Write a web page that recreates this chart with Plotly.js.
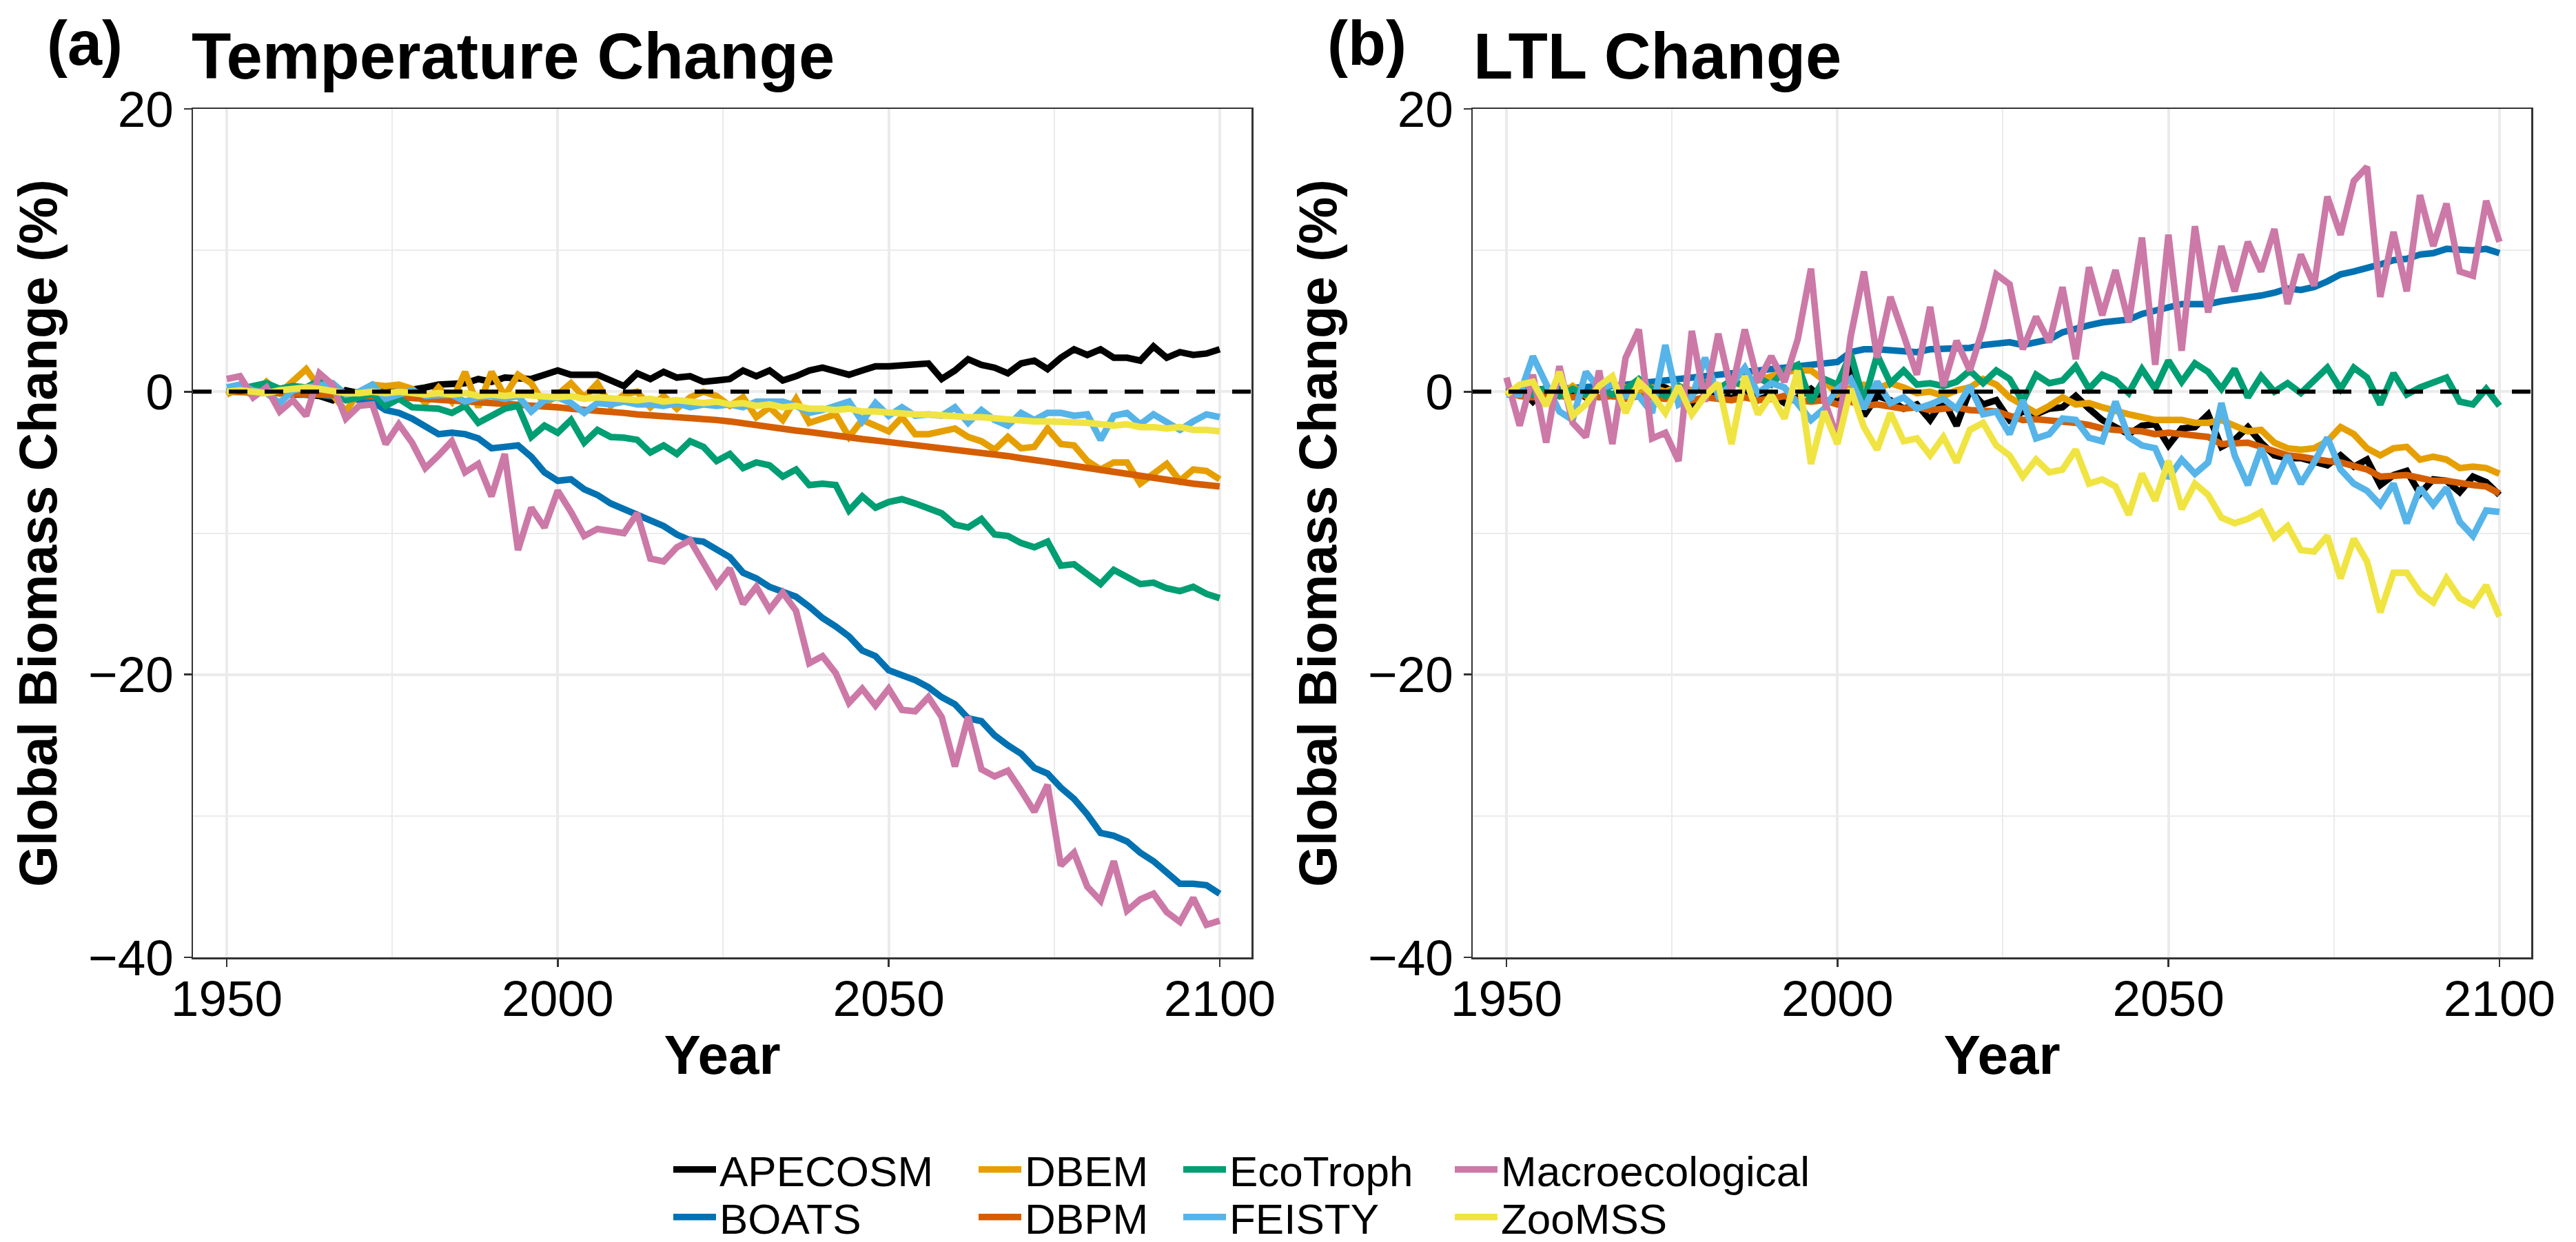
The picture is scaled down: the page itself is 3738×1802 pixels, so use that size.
<!DOCTYPE html>
<html>
<head>
<meta charset="utf-8">
<script src="https://cdn.plot.ly/plotly-3.0.1.min.js"></script>
<style>
html,body{margin:0;padding:0;background:#fff;}
#chart{width:3738px;height:1802px;}
</style>
</head>
<body>
<div id="chart"></div>
<script>
// ---------- data (2-year steps) ----------
const years = [1950,1952,1954,1956,1958,1960,1962,1964,1966,1968,
1970,1972,1974,1976,1978,1980,1982,1984,1986,1988,
1990,1992,1994,1996,1998,2000,2002,2004,2006,2008,
2010,2012,2014,2016,2018,2020,2022,2024,2026,2028,
2030,2032,2034,2036,2038,2040,2042,2044,2046,2048,
2050,2052,2054,2056,2058,2060,2062,2064,2066,2068,
2070,2072,2074,2076,2078,2080,2082,2084,2086,2088,
2090,2092,2094,2096,2098,2100];

const models = ["APECOSM","BOATS","DBEM","DBPM","EcoTroph","FEISTY","Macroecological","ZooMSS"];
const modelColors = ["#000000","#0072B2","#E69F00","#D55E00","#009E73","#56B4E9","#CC79A7","#F0E442"];
const xTickLabels = [1950,2000,2050,2100];
const yTickLabels = [-40,-20,0,20];
const panelTitles = ["Temperature Change","LTL Change"];
const panelTags = ["(a)","(b)"];

// (a) Temperature change
const apecosmTemp = [0,0.2,0.1,-0.1,0.0,-0.2,-0.2,-0.3,-0.6,0.1,
-0.1,0.0,0.0,0.0,0.1,0.3,0.5,0.6,0.6,0.9,
0.7,1.0,0.9,0.9,1.2,1.5,1.2,1.2,1.2,0.8,
0.4,1.3,0.9,1.4,1.0,1.1,0.7,0.8,0.9,1.5,
1.1,1.5,0.8,1.1,1.5,1.7,1.4,1.2,1.5,1.8,
1.8,1.9,1.9,2.0,0.9,1.5,2.3,1.9,1.7,1.3,
2.0,2.2,1.6,2.4,3.0,2.6,3.0,2.4,2.4,2.2,
3.2,2.4,2.8,2.6,2.7,3.0];
const boatsTemp = [0,0.1,0.1,0.0,-0.1,-0.1,-0.2,-0.2,-0.3,-0.5,
-0.6,-0.7,-1.3,-1.5,-1.9,-2.4,-3.0,-2.9,-3.0,-3.3,
-4.0,-3.9,-3.8,-4.6,-5.7,-6.3,-6.2,-6.9,-7.3,-7.9,
-8.3,-8.6,-9.0,-9.5,-10.1,-10.5,-10.6,-11.1,-11.7,-12.8,
-13.2,-13.8,-14.1,-14.5,-15.2,-16.0,-16.6,-17.3,-18.3,-18.7,
-19.7,-20.0,-20.4,-20.9,-21.6,-22.1,-23.1,-23.3,-24.3,-25.0,
-25.6,-26.6,-27.0,-28.0,-28.8,-29.9,-31.2,-31.4,-31.8,-32.6,
-33.2,-34.0,-34.8,-34.8,-34.9,-35.5];
const dbemTemp = [-0.2,0.3,-0.3,0.7,-0.1,0.7,1.6,0.3,-0.2,-1.4,
0.0,0.5,0.4,0.5,0.2,-0.8,0.3,-0.7,1.4,-1.1,
1.4,-0.3,1.2,0.6,-0.9,-0.2,0.6,-0.4,0.6,-1.0,
-0.2,0.0,-1.1,-0.3,-1.2,-0.4,0.0,-0.3,-1.0,-0.4,
-1.8,-1.1,-2.0,-0.5,-2.2,-1.9,-1.6,-3.2,-2.0,-2.4,
-2.8,-1.8,-3.0,-3.0,-2.8,-2.6,-3.2,-3.5,-4.1,-3.2,
-4.0,-3.9,-2.6,-3.7,-3.8,-4.9,-5.5,-5.0,-5.0,-6.5,
-5.8,-5.1,-6.3,-5.5,-5.6,-6.2];
const dbpmTemp = [0,0,-0.05,-0.1,-0.1,-0.15,-0.15,-0.2,-0.2,-0.25,
-0.3,-0.3,-0.35,-0.4,-0.45,-0.5,-0.55,-0.6,-0.65,-0.7,
-0.75,-0.85,-0.9,-1.0,-1.05,-1.1,-1.2,-1.25,-1.35,-1.4,
-1.5,-1.6,-1.65,-1.75,-1.8,-1.9,-1.95,-2.0,-2.1,-2.25,
-2.35,-2.5,-2.6,-2.75,-2.85,-3.0,-3.1,-3.2,-3.35,-3.45,
-3.55,-3.65,-3.75,-3.85,-3.95,-4.05,-4.15,-4.3,-4.45,-4.55,
-4.7,-4.8,-4.95,-5.1,-5.25,-5.4,-5.55,-5.7,-5.85,-5.95,
-6.1,-6.25,-6.4,-6.5,-6.6,-6.7];
const ecotrophTemp = [0,0.2,0.3,0.6,0.2,0.4,0.3,0.8,0.1,-0.6,
-0.4,-0.1,-1.0,-0.5,-1.1,-1.2,-1.2,-1.5,-1.0,-2.2,
-1.7,-1.2,-1.0,-3.2,-2.4,-2.9,-2.0,-3.6,-2.7,-3.2,
-3.25,-3.4,-4.3,-3.8,-4.4,-3.5,-3.9,-4.9,-4.4,-5.4,
-5.0,-5.2,-6.0,-5.5,-6.6,-6.5,-6.6,-8.4,-7.4,-8.2,
-7.8,-7.6,-7.9,-8.3,-8.6,-9.4,-9.6,-9.0,-10.1,-10.2,
-10.7,-11.0,-10.6,-12.3,-12.2,-12.9,-13.6,-12.6,-13.1,-13.6,
-13.5,-13.9,-14.1,-13.8,-14.3,-14.6];
const feistyTemp = [0.3,0.5,0.1,-0.1,-0.8,0.1,0.3,0.4,0.6,-0.2,
0.0,0.5,-0.5,-0.2,0.1,-0.3,-0.2,-0.2,-0.7,-0.4,
-0.3,-0.5,-0.3,-1.4,-0.6,-0.4,-0.8,-1.5,-0.8,-0.9,
-0.7,-0.9,-0.9,-1.0,-0.8,-1.1,-0.9,-1.0,-0.9,-1.1,
-0.7,-0.7,-0.7,-1.0,-1.5,-1.3,-1.0,-0.7,-2.1,-0.8,
-1.7,-1.1,-1.7,-1.6,-1.7,-1.1,-2.2,-1.3,-2.0,-2.4,
-1.5,-2.0,-1.5,-1.5,-1.7,-1.6,-3.4,-1.7,-1.5,-2.3,
-1.6,-2.2,-2.7,-2.1,-1.6,-1.8];
const macroTemp = [0.9,1.1,-0.4,0.3,-1.4,-0.6,-1.7,1.3,0.5,-1.9,
-1.0,-0.9,-3.7,-2.3,-3.6,-5.4,-4.5,-3.5,-5.7,-5.1,
-7.4,-4.4,-11.2,-8.2,-9.6,-7.0,-8.5,-10.2,-9.7,-9.8,
-10.0,-8.6,-11.8,-12.0,-11.0,-10.5,-12.0,-13.7,-12.5,-15.0,
-13.8,-15.4,-14.2,-15.5,-19.2,-18.7,-19.9,-22.0,-21.0,-22.2,
-21.0,-22.5,-22.6,-21.6,-23.0,-26.5,-23.0,-26.7,-27.2,-26.8,
-28.2,-29.7,-27.8,-33.5,-32.6,-35.0,-36.0,-33.2,-36.7,-35.9,
-35.5,-36.8,-37.5,-35.8,-37.7,-37.4];
const zoomssTemp = [0,0.1,0,-0.1,0.1,0.2,0.3,0.2,0,-0.1,
-0.1,0,-0.1,0,-0.1,-0.2,-0.1,-0.2,-0.1,-0.3,
-0.2,-0.3,-0.2,-0.3,-0.3,-0.4,-0.3,-0.5,-0.4,-0.5,
-0.5,-0.6,-0.5,-0.7,-0.6,-0.7,-0.8,-0.7,-0.9,-0.8,
-1.0,-0.9,-1.1,-1.0,-1.2,-1.2,-1.3,-1.2,-1.4,-1.4,
-1.5,-1.5,-1.6,-1.6,-1.7,-1.7,-1.8,-1.8,-1.9,-2.0,
-2.0,-2.1,-2.1,-2.1,-2.2,-2.2,-2.3,-2.4,-2.3,-2.5,
-2.5,-2.6,-2.5,-2.7,-2.7,-2.8];

// (b) LTL change
const apecosmLTL = [0,0.3,-0.7,0.2,-0.3,0.1,-0.4,0.2,-0.3,0.1,
-0.2,0.5,0.3,-0.2,-1.0,-0.3,0.1,-0.5,0.2,-0.6,
-0.2,-0.8,-0.4,0.2,-0.6,-0.7,2.0,-1.7,-0.3,-0.6,
-1.2,-0.9,-2.0,-0.6,-2.4,0.1,-0.9,-0.6,-2.0,-1.4,
-1.6,-1.2,-1.1,-0.3,-1.2,-2.0,-2.5,-3.0,-2.4,-2.3,
-3.8,-2.6,-2.5,-1.6,-3.9,-3.4,-2.5,-3.6,-4.5,-4.7,
-4.7,-5.0,-5.2,-4.5,-5.3,-4.8,-6.6,-5.9,-5.6,-7.2,
-6.2,-6.3,-7.1,-6.0,-6.4,-7.3];
const boatsLTL = [0,0.1,0.1,0.2,0.2,0.3,0.3,0.4,0.4,0.5,
0.6,0.7,0.7,0.8,0.9,1.0,1.1,1.2,1.3,1.4,
1.5,1.6,1.7,1.8,1.9,2.1,2.8,3.0,3.0,2.9,
2.9,2.8,3.0,3.0,3.0,3.1,3.3,3.4,3.5,3.3,
3.5,3.7,4.2,4.5,4.7,4.9,5.0,5.1,5.5,5.7,
6.0,6.2,6.2,6.2,6.4,6.5,6.6,6.8,7.0,7.3,
7.2,7.4,7.8,8.3,8.5,8.7,9.0,9.3,9.4,9.7,
9.8,10.1,10.0,10.0,10.1,9.8];
const dbemLTL = [0,-0.3,-0.2,0.1,-0.3,0.4,-0.3,0.2,-0.2,0.3,
-0.1,0.3,0.0,0.4,0.1,0.5,0.3,0.6,0.5,0.8,
1.0,1.4,1.5,1.5,0.8,-0.2,0.3,0.5,0.2,0.6,
0.3,-0.1,0.0,-0.3,0.1,0.3,0.9,0.5,-0.4,-0.9,
-1.5,-1.0,-0.4,-0.9,-0.8,-1.1,-1.4,-1.6,-1.8,-2.0,
-2.0,-2.0,-2.2,-2.2,-2.0,-2.4,-2.8,-2.7,-3.6,-4.0,
-4.1,-4.0,-3.5,-2.5,-3.0,-4.0,-4.5,-4.0,-3.9,-4.8,
-4.6,-4.8,-5.4,-5.3,-5.4,-5.8];
const dbpmLTL = [0,-0.3,-0.4,-0.2,-0.3,-0.4,-0.2,-0.4,-0.3,-0.5,
-0.3,-0.4,-0.5,-0.3,-0.6,-0.4,-0.5,-0.6,-0.4,-0.6,
-0.5,-0.3,-0.6,-0.7,-0.6,-0.9,-0.7,-1.0,-0.9,-1.1,
-1.2,-1.1,-1.3,-1.2,-1.1,-1.3,-1.4,-1.4,-1.7,-2.0,
-1.95,-2.0,-2.1,-2.2,-2.35,-2.6,-2.7,-2.7,-2.8,-3.0,
-2.9,-3.0,-3.1,-3.2,-3.7,-3.6,-3.6,-3.9,-4.2,-4.5,
-4.6,-4.8,-4.9,-5.0,-5.2,-5.5,-6.0,-5.9,-5.9,-6.1,
-6.3,-6.3,-6.5,-6.6,-6.7,-7.2];
const ecotrophLTL = [0,0.2,-0.2,0.3,-0.3,0.2,-0.2,0.3,-0.2,0.2,
0.9,0.2,-0.3,0.4,-0.2,0.6,0.2,0.8,0.4,1.0,
0.5,1.5,1.9,-0.7,0.9,0.5,2.7,-0.7,2.6,0.6,
1.5,0.5,0.6,0.4,0.7,1.5,0.6,1.5,0.9,-0.7,
1.2,0.6,0.8,1.8,0.2,1.2,0.8,-0.1,1.6,0.2,
2.2,0.7,2.0,1.4,0.2,1.6,-0.4,1.1,0.0,0.6,
-0.1,0.8,1.7,0.2,1.7,1.0,-0.9,1.3,-0.2,0.3,
0.7,1.0,-0.7,-0.9,0.2,-1.0];
const feistyLTL = [-0.2,-0.2,2.5,0.5,-1.4,-2.0,1.4,0.2,0.5,-0.3,
-0.3,-1.5,3.3,-0.9,-0.4,2.4,-0.3,0.5,1.7,-0.1,
0.6,0.3,-0.9,-2.0,-1.2,0.2,0.9,-1.2,0.7,-0.8,
-0.4,-1.2,-0.9,-0.5,-1.2,0.4,-1.6,-1.4,-3.0,-0.6,
-3.3,-3.0,-1.9,-2.0,-3.25,-3.5,-0.7,-3.2,-3.8,-4.0,
-6.1,-4.8,-5.8,-5.0,-0.8,-4.5,-6.6,-4.0,-6.5,-4.5,
-6.5,-5.0,-3.25,-5.5,-6.5,-7.0,-8.0,-6.5,-9.3,-6.8,
-8.0,-6.8,-9.2,-10.2,-8.4,-8.5];
const macroLTL = [1.0,-2.4,1.2,-3.6,1.8,-2.2,-3.2,1.5,-3.7,2.4,
4.4,-3.3,-2.9,-4.9,4.3,-0.7,4.1,0.0,4.4,0.7,
2.5,0.7,3.7,8.7,-0.6,-3.3,3.9,8.5,2.4,6.7,
4.0,1.2,6.0,0.4,3.6,1.5,4.5,8.3,7.6,3.0,
5.3,3.5,7.4,2.3,8.8,5.4,8.6,4.9,10.9,1.9,
11.1,2.9,11.7,5.6,10.3,7.1,10.6,8.5,11.5,6.2,
9.7,7.5,13.8,11.1,14.9,15.9,6.7,11.3,7.1,13.9,
10.3,13.3,8.5,8.2,13.5,10.6];
const zoomssLTL = [-0.2,0.5,0.7,-1.0,1.4,-1.7,-0.9,0.4,1.1,-1.5,
0.7,-0.2,-1.5,0.4,-1.6,-0.3,0.6,-3.7,1.1,-1.6,
-0.2,-1.9,1.5,-5.1,-1.4,-3.7,0.2,-2.5,-4.1,-1.5,
-3.5,-3.3,-4.5,-3.2,-5.0,-2.7,-2.2,-3.8,-4.5,-6.0,
-4.8,-5.7,-5.5,-4.1,-6.5,-6.2,-6.7,-8.7,-5.8,-7.7,
-4.9,-8.3,-6.5,-7.3,-8.9,-9.3,-9.0,-8.5,-10.3,-9.5,
-11.2,-11.3,-10.2,-13.2,-10.4,-12.0,-15.6,-12.8,-12.8,-14.2,
-14.9,-13.2,-14.6,-15.1,-13.7,-15.9];

const tempSeries = [apecosmTemp,boatsTemp,dbemTemp,dbpmTemp,ecotrophTemp,feistyTemp,macroTemp,zoomssTemp];
const ltlSeries  = [apecosmLTL,boatsLTL,dbemLTL,dbpmLTL,ecotrophLTL,feistyLTL,macroLTL,zoomssLTL];

// ---------- figure ----------
const W = 3738, H = 1802;
const FONT = "Liberation Sans, Arial, Helvetica, sans-serif";
const LW = 9.5;
const legendIds = ["legend","legend2","legend3","legend4","legend5","legend6","legend7","legend8"];

const traces = [];
models.forEach((m,i)=>{
  traces.push({x: years, y: tempSeries[i], type:"scatter", mode:"lines", name:m,
    line:{color:modelColors[i], width:LW}, xaxis:"x", yaxis:"y",
    legend: legendIds[i], showlegend:true, hoverinfo:"skip"});
});
models.forEach((m,i)=>{
  traces.push({x: years, y: ltlSeries[i], type:"scatter", mode:"lines", name:m,
    line:{color:modelColors[i], width:LW}, xaxis:"x2", yaxis:"y2",
    showlegend:false, hoverinfo:"skip"});
});

function xAxis(domain, anchor){
  return {domain: domain, anchor: anchor, range:[1944.9,2104.8],
    tickmode:"array", tickvals:xTickLabels, ticktext:xTickLabels.map(String),
    ticks:"outside", ticklen:11, tickwidth:2.5, tickcolor:"#333333",
    ticklabelstandoff:-16,
    tickfont:{size:73, color:"#000", family:FONT},
    showgrid:true, gridcolor:"#EBEBEB", gridwidth:4,
    minor:{tickvals:[1975,2025,2075], showgrid:true, gridcolor:"#EBEBEB", gridwidth:2, ticks:""},
    showline:true, mirror:true, linecolor:"#333333", linewidth:2.5, zeroline:false,
    title:{text:"Year", font:{size:80, family:FONT, weight:"bold", color:"#000"}, standoff:14}};
}
function yAxis(domain, anchor){
  return {domain: domain, anchor: anchor, range:[-40,20],
    tickmode:"array", tickvals:yTickLabels, ticktext:yTickLabels.map(v=>v<0?"\u2212"+Math.abs(v):String(v)),
    ticks:"outside", ticklen:11, tickwidth:2.5, tickcolor:"#333333",
    tickfont:{size:73, color:"#000", family:FONT},
    showgrid:true, gridcolor:"#EBEBEB", gridwidth:4,
    minor:{tickvals:[-30,-10,10], showgrid:true, gridcolor:"#EBEBEB", gridwidth:2, ticks:""},
    showline:true, mirror:true, linecolor:"#333333", linewidth:2.5, zeroline:false,
    title:{text:"Global Biomass Change (%)", font:{size:77, family:FONT, weight:"bold", color:"#000"}, standoff:20}};
}

const yDom = [1-1389/H, 1-158/H];
const layout = {
  width:W, height:H, margin:{l:0,r:0,t:0,b:0, autoexpand:false},
  paper_bgcolor:"#ffffff", plot_bgcolor:"#ffffff",
  font:{family:FONT, color:"#000"},
  xaxis: xAxis([280/W, 1816/W], "y"),
  yaxis: yAxis(yDom, "x"),
  xaxis2: xAxis([2137/W, 3673/W], "y2"),
  yaxis2: yAxis(yDom, "x2"),
  shapes:[
    {type:"line", xref:"x domain", yref:"y", x0:0, x1:1, y0:0, y1:0, layer:"above",
     line:{color:"#000", width:6, dash:"27px,25px"}},
    {type:"line", xref:"x2 domain", yref:"y2", x0:0, x1:1, y0:0, y1:0, layer:"above",
     line:{color:"#000", width:6, dash:"27px,25px"}}
  ],
  annotations:[
    {text:panelTags[0], xref:"paper", yref:"paper", x:66/W, y:1-63/H, xanchor:"left", yanchor:"middle", showarrow:false,
     font:{size:90, family:FONT, weight:"bold", color:"#000"}},
    {text:panelTitles[0], xref:"paper", yref:"paper", x:276/W, y:1-82/H, xanchor:"left", yanchor:"middle", showarrow:false,
     font:{size:94, family:FONT, weight:"bold", color:"#000"}},
    {text:panelTags[1], xref:"paper", yref:"paper", x:1924/W, y:1-63/H, xanchor:"left", yanchor:"middle", showarrow:false,
     font:{size:90, family:FONT, weight:"bold", color:"#000"}},
    {text:panelTitles[1], xref:"paper", yref:"paper", x:2136/W, y:1-82/H, xanchor:"left", yanchor:"middle", showarrow:false,
     font:{size:94, family:FONT, weight:"bold", color:"#000"}}
  ],
  showlegend:true
};

// legend: 4 columns x 2 rows (column-major, as in the reference)
const colTextX = [1045, 1488, 1785, 2179];
const rowY = [1697, 1766];
legendIds.forEach((id,i)=>{
  const col = Math.floor(i/2), row = i%2;
  layout[id] = {x:(colTextX[col]-73)/W, xanchor:"left", y:1-rowY[row]/H, yanchor:"middle",
    orientation:"v", bgcolor:"rgba(0,0,0,0)", borderwidth:0, itemwidth:62,
    font:{size:62, family:FONT, color:"#000"}, itemclick:false, itemdoubleclick:false};
});

Plotly.newPlot("chart", traces, layout, {staticPlot:true, displayModeBar:false});
</script>
</body>
</html>
